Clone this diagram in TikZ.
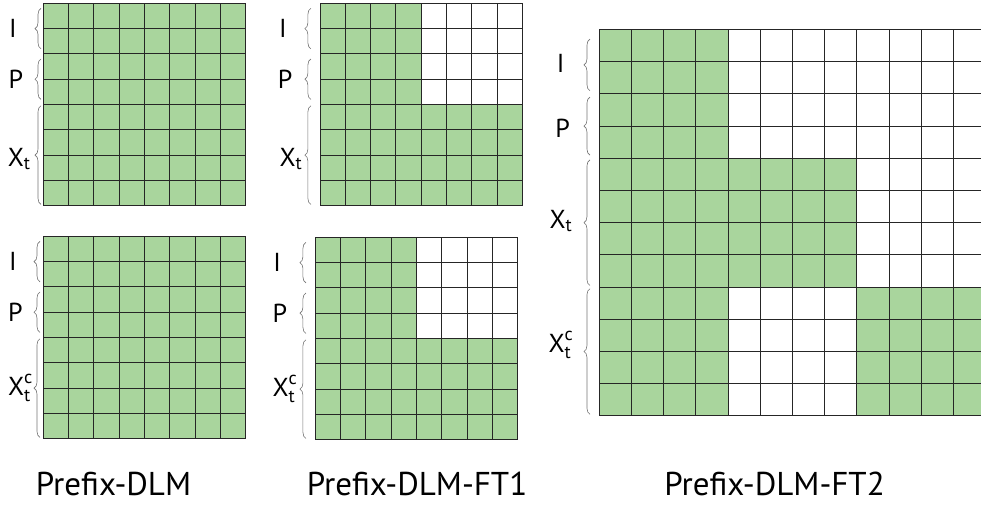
\documentclass[tikz,border=0pt]{standalone}
\usepackage{amsmath}
\usepackage{fontspec}
\setmainfont{PT Sans}
\usetikzlibrary{decorations.pathreplacing}

\definecolor{cellgreen}{RGB}{169,213,157}

\tikzset{
    gridline/.style={draw=black!85, line width=0.9pt},
    bracegray/.style={draw=black!55, line width=0.6pt, decorate,
        decoration={brace, amplitude=6pt}},
    rowlabel/.style={font=\fontsize{26}{26}\selectfont, inner sep=0pt},
    captext/.style={font=\fontsize{33}{33}\selectfont, anchor=base, inner sep=0pt}
}

\begin{document}
\begin{tikzpicture}[x=1pt, y=-1pt]
        \useasboundingbox (0, 0) rectangle (981, 504);
        \clip (0, 0) rectangle (981, 504);

        % Prefix-DLM, top
        \begin{scope}[shift={(43.3pt, -3.3pt)}, x=25.3pt, y=-25.3pt]
            \fill[cellgreen] (0, 0) rectangle (8, 8);
            \foreach \k in {0,...,8} {
                \draw[gridline] (\k, 0) -- (\k, 8);
                \draw[gridline] (0, \k) -- (8, \k);
            }
            \draw[bracegray] (-0.09, 1.8) -- (-0.09, 0.2);
            \draw[bracegray] (-0.09, 3.8) -- (-0.09, 2.2);
            \draw[bracegray] (-0.09, 7.95) -- (-0.09, 4.05);
            \node[rowlabel] (i1) at (-1.2, 1) {I};
            \node[rowlabel] (p1) at (-1.08, 3) {P};
            \node[rowlabel] (x1) at (-0.95, 6.15) {$\text{X}_{\text{t}}$};
        \end{scope}

        % Prefix-DLM-FT1, top
        \begin{scope}[shift={(320pt, -3.3pt)}, x=25.3pt, y=-25.3pt]
            \fill[cellgreen] (0, 0) rectangle (4, 4);
            \fill[cellgreen] (0, 4) rectangle (8, 8);
            \foreach \k in {0,...,8} {
                \draw[gridline] (\k, 0) -- (\k, 8);
                \draw[gridline] (0, \k) -- (8, \k);
            }
            \draw[bracegray] (-0.36, 1.8) -- (-0.36, 0.2);
            \draw[bracegray] (-0.36, 3.8) -- (-0.36, 2.2);
            \draw[bracegray] (-0.36, 7.95) -- (-0.36, 4.05);
            \node[rowlabel] (i2) at (-1.47, 1) {I};
            \node[rowlabel] (p2) at (-1.38, 3) {P};
            \node[rowlabel] (x2) at (-1.15, 6.15) {$\text{X}_{\text{t}}$};
        \end{scope}

        % Prefix-DLM, bottom
        \begin{scope}[shift={(43.3pt, -236.3pt)}, x=25.3pt, y=-25.3pt]
            \fill[cellgreen] (0, 0) rectangle (8, 8);
            \foreach \k in {0,...,8} {
                \draw[gridline] (\k, 0) -- (\k, 8);
                \draw[gridline] (0, \k) -- (8, \k);
            }
            \draw[bracegray] (-0.13, 1.8) -- (-0.13, 0.2);
            \draw[bracegray] (-0.13, 3.8) -- (-0.13, 2.2);
            \draw[bracegray] (-0.13, 7.95) -- (-0.13, 4.05);
            \node[rowlabel] (i3) at (-1.2, 1) {I};
            \node[rowlabel] (p3) at (-1.1, 3) {P};
            \node[rowlabel] (x3) at (-0.9, 6) {$\text{X}_{\text{t}}^{\text{c}}$};
        \end{scope}

        % Prefix-DLM-FT1, bottom
        \begin{scope}[shift={(315.3pt, -237.3pt)}, x=25.3pt, y=-25.3pt]
            \fill[cellgreen] (0, 0) rectangle (4, 4);
            \fill[cellgreen] (0, 4) rectangle (8, 8);
            \foreach \k in {0,...,8} {
                \draw[gridline] (\k, 0) -- (\k, 8);
                \draw[gridline] (0, \k) -- (8, \k);
            }
            \draw[bracegray] (-0.37, 1.8) -- (-0.37, 0.2);
            \draw[bracegray] (-0.37, 3.8) -- (-0.37, 2.2);
            \draw[bracegray] (-0.37, 7.95) -- (-0.37, 4.05);
            \node[rowlabel] (i4) at (-1.51, 1) {I};
            \node[rowlabel] (p4) at (-1.4, 3) {P};
            \node[rowlabel] (x4) at (-1.2, 6) {$\text{X}_{\text{t}}^{\text{c}}$};
        \end{scope}

        % Prefix-DLM-FT2
        \begin{scope}[shift={(599.3pt, -29.5pt)}, x=32.2pt, y=-32.2pt]
            \fill[cellgreen] (0, 0) rectangle (4, 12);
            \fill[cellgreen] (4, 4) rectangle (8, 8);
            \fill[cellgreen] (8, 8) rectangle (12, 12);
            \foreach \k in {0,...,12} {
                \draw[gridline] (\k, 0) -- (\k, 12);
                \draw[gridline] (0, \k) -- (12, \k);
            }
            \draw[bracegray] (-0.29, 1.9) -- (-0.29, 0.3);
            \draw[bracegray] (-0.29, 3.9) -- (-0.29, 2.1);
            \draw[bracegray] (-0.29, 7.95) -- (-0.29, 4.05);
            \draw[bracegray] (-0.29, 11.95) -- (-0.29, 8.05);
            \node[rowlabel] (i5) at (-1.2, 1.04) {I};
            \node[rowlabel] (p5) at (-1.14, 3.08) {P};
            \node[rowlabel] (x5) at (-1.19, 5.95) {$\text{X}_{\text{t}}$};
            \node[rowlabel] (xc5) at (-1.19, 9.8) {$\text{X}_{\text{t}}^{\text{c}}$};
        \end{scope}

        % Captions
        \node[captext] (dlm) at (113.5, 495) {Prefix-DLM};
        \node[captext] (ft1) at (417, 495) {Prefix-DLM-FT1};
        \node[captext] (ft2) at (774.5, 495) {Prefix-DLM-FT2};

    \end{tikzpicture}
\end{document}
